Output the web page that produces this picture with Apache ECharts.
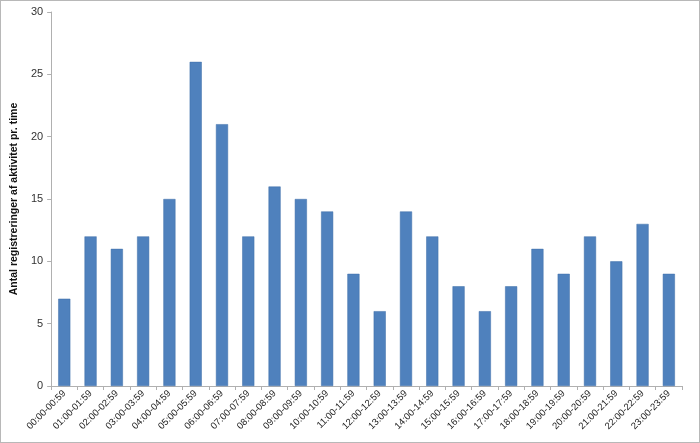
<!DOCTYPE html>
<html><head><meta charset="utf-8">
<script src="https://cdn.jsdelivr.net/npm/echarts@6/dist/echarts.min.js"></script>
<style>html,body{margin:0;padding:0;background:#fff}#c{width:700px;height:443px;box-sizing:border-box;border:1px solid #b8b8b8}</style>
</head><body><div id="c"></div>
<script>
const categories = ["00:00-00:59","01:00-01:59","02:00-02:59","03:00-03:59","04:00-04:59","05:00-05:59","06:00-06:59","07:00-07:59","08:00-08:59","09:00-09:59","10:00-10:59","11:00-11:59","12:00-12:59","13:00-13:59","14:00-14:59","15:00-15:59","16:00-16:59","17:00-17:59","18:00-18:59","19:00-19:59","20:00-20:59","21:00-21:59","22:00-22:59","23:00-23:59"];
const values = [7,12,11,12,15,26,21,12,16,15,14,9,6,14,12,8,6,8,11,9,12,10,13,9];
const yTitle = "Antal registreringer af aktivitet pr. time";
const chart = echarts.init(document.getElementById('c'), null, {renderer:'canvas'});
chart.setOption({
  animation:false,
  grid:{left:47,right:17,top:11,bottom:56,containLabel:false},
  xAxis:{type:'category',data:categories,boundaryGap:true,
    axisLine:{lineStyle:{color:'#b0b0b0'}},
    axisTick:{show:true,alignWithLabel:false,length:4,lineStyle:{color:'#b0b0b0'}},
    axisLabel:{rotate:45,fontSize:9.5,color:'#222',fontFamily:'Liberation Sans, Arial',margin:6,interval:0}},
  yAxis:{type:'value',min:0,max:30,interval:5,
    name:yTitle,nameLocation:'middle',nameGap:26,
    nameTextStyle:{fontSize:10.5,fontWeight:'bold',color:'#111',fontFamily:'Liberation Sans, Arial'},
    axisLine:{show:true,lineStyle:{color:'#b0b0b0'}},
    axisTick:{show:true,length:4,lineStyle:{color:'#b0b0b0'}},
    splitLine:{show:false},
    axisLabel:{fontSize:11,color:'#333',fontFamily:'Liberation Sans, Arial',margin:8}},
  series:[{type:'bar',data:values,barWidth:'46%',
    itemStyle:{color:'#4F81BD',borderColor:'#3f6fa8',borderWidth:0.5}}]
});
</script></body></html>
